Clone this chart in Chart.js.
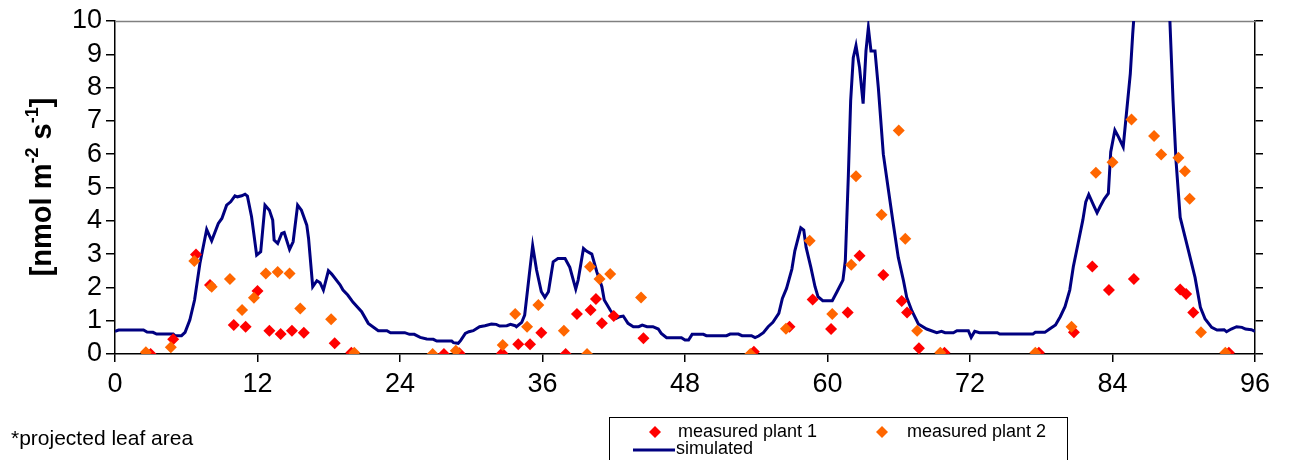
<!DOCTYPE html>
<html>
<head>
<meta charset="utf-8">
<title>Simulated vs measured</title>
<script src="https://cdn.jsdelivr.net/npm/chart.js@4.4.1/dist/chart.umd.min.js"></script>
<style>
  html, body { margin: 0; padding: 0; background: #fff; }
  #wrap { width: 1290px; height: 460px; position: relative; }
</style>
</head>
<body>
<div id="wrap"><canvas id="chart"></canvas></div>
<script>
"use strict";

// hours / values
var xTicks = [0, 12, 24, 36, 48, 60, 72, 84, 96];
var yTicks = [0, 1, 2, 3, 4, 5, 6, 7, 8, 9, 10];

var plant1Hours = [3.0, 4.9, 6.82, 8.0, 10.0, 11.0, 12.0, 13.0, 13.95, 14.9, 15.9, 18.5, 19.9,
    27.7, 29.0, 32.6, 33.96, 34.95, 35.9, 37.95, 38.9, 40.05, 40.5, 41.0, 42.0, 44.5,
    53.8, 56.8, 58.75, 60.3, 61.7, 62.7, 64.7, 66.25, 66.7, 67.7, 69.85,
    77.8, 80.75, 82.3, 83.7, 85.8, 89.7, 90.2, 90.8, 93.8];
var plant1Values = [0.0, 0.44, 2.99, 2.07, 0.87, 0.82, 1.89, 0.70, 0.60, 0.70, 0.64, 0.32, 0.04,
    0.0, 0.02, 0.02, 0.29, 0.29, 0.64, 0.0, 1.2, 1.32, 1.65, 0.92, 1.14, 0.47,
    0.07, 0.82, 1.64, 0.75, 1.25, 2.95, 2.37, 1.59, 1.25, 0.17, 0.04,
    0.04, 0.65, 2.63, 1.92, 2.25, 1.94, 1.80, 1.25, 0.04];

var plant2Hours = [2.6, 4.7, 6.68, 8.14, 9.68, 10.7, 11.7, 12.7, 13.7, 14.7, 15.6, 18.2, 20.15,
    26.75, 28.7, 32.65, 33.7, 34.7, 35.65, 37.8, 39.75, 40.0, 40.8, 41.7, 44.3,
    53.5, 56.5, 58.5, 60.4, 62.0, 62.4, 64.55, 66.0, 66.55, 67.55, 69.5,
    77.5, 80.55, 82.6, 84.0, 85.6, 87.5, 88.1, 89.55, 90.1, 90.5, 91.45, 93.5];
var plant2Values = [0.05, 0.2, 2.79, 2.02, 2.25, 1.32, 1.69, 2.42, 2.46, 2.42, 1.37, 1.04, 0.04,
    0.0, 0.1, 0.27, 1.2, 0.82, 1.47, 0.70, 0.0, 2.62, 2.25, 2.40, 1.70,
    0.0, 0.76, 3.40, 1.2, 2.68, 5.34, 4.18, 6.71, 3.46, 0.70, 0.04,
    0.04, 0.82, 5.44, 5.76, 7.04, 6.55, 5.99, 5.89, 5.49, 4.66, 0.65, 0.04];

var simHours = [0.0, 0.3, 1.0, 2.4, 2.7, 3.2, 3.5, 4.9, 5.05, 5.6, 5.9, 6.3, 6.7, 7.15, 7.72, 8.14,
    8.7, 9.0, 9.4, 9.74, 10.1, 10.3, 10.67, 10.95, 11.15, 11.5, 11.93, 12.27, 12.63, 13.0, 13.28,
    13.4, 13.7, 14.04, 14.25, 14.7, 15.0, 15.38, 15.7, 16.15, 16.3, 16.65, 17.0, 17.27, 17.55,
    17.97, 18.25, 18.95, 19.2, 19.6, 20.05, 20.77, 21.33, 22.17, 22.9, 23.2, 24.4, 24.8, 25.2,
    25.7, 26.25, 26.8, 27.1, 28.35, 28.5, 28.9, 29.1, 29.5, 29.8, 30.17, 30.7, 31.15, 31.7,
    32.1, 32.4, 33.0, 33.3, 33.7, 33.8, 34.25, 34.5, 34.9, 35.17, 35.5, 35.9, 36.2, 36.5, 36.9,
    37.3, 37.9, 38.3, 38.8, 39.0, 39.45, 39.7, 40.15, 40.57, 41.0, 41.2, 41.7, 42.2, 42.5, 42.8,
    43.2, 43.65, 44.1, 44.4, 44.8, 45.3, 45.75, 46.0, 46.45, 47.7, 48.0, 48.3, 48.6, 49.55,
    49.8, 51.5, 51.8, 52.5, 52.8, 53.6, 53.9, 54.2, 54.6, 55.0, 55.4, 55.9, 56.2, 56.55, 57.0,
    57.25, 57.75, 58.0, 58.2, 58.6, 58.95, 59.2, 59.6, 60.4, 60.8, 61.3, 61.5, 61.6, 61.75,
    61.95, 62.17, 62.4, 62.7, 63.0, 63.24, 63.44, 63.66, 64.0, 64.28, 64.7, 65.1, 65.5, 65.96,
    66.4, 66.67, 67.1, 67.65, 68.35, 69.2, 69.6, 69.9, 70.6, 70.9, 71.86, 72.1, 72.4, 72.8,
    74.3, 74.5, 77.3, 77.5, 78.3, 78.7, 79.2, 79.6, 80.0, 80.4, 80.7, 81.1, 81.5, 81.75, 82.0,
    82.4, 82.7, 82.95, 83.3, 83.65, 83.85, 84.2, 84.5, 84.9, 85.2, 85.5, 85.7, 85.9, 86.3,
    86.8, 87.3, 87.8, 88.3, 88.8, 89.1, 89.35, 89.7, 90.4, 90.95, 91.4, 91.8, 92.35, 92.8,
    93.4, 93.6, 94.0, 94.45, 94.9, 95.2, 95.7, 96.0];
var simValues = [0.68, 0.72, 0.72, 0.72, 0.66, 0.65, 0.60, 0.60, 0.55, 0.55, 0.65, 1.02, 1.62, 2.72, 3.74, 3.40,
    3.92, 4.07, 4.47, 4.57, 4.75, 4.72, 4.75, 4.80, 4.74, 4.12, 2.97, 3.07, 4.47, 4.32, 4.02,
    3.42, 3.32, 3.62, 3.65, 3.14, 3.37, 4.47, 4.32, 3.87, 3.47, 2.02, 2.20, 2.14, 1.92,
    2.50, 2.40, 2.08, 1.92, 1.77, 1.55, 1.27, 0.92, 0.70, 0.70, 0.64, 0.64, 0.59, 0.59,
    0.50, 0.45, 0.44, 0.39, 0.39, 0.34, 0.32, 0.40, 0.62, 0.67, 0.70, 0.82, 0.85, 0.90,
    0.89, 0.84, 0.85, 0.89, 0.85, 0.82, 0.95, 1.17, 2.42, 3.25, 2.52, 1.87, 1.70, 1.87, 2.77,
    2.87, 2.87, 2.60, 1.95, 2.22, 3.17, 3.09, 3.00, 2.47, 2.02, 1.62, 1.32, 1.07, 1.12, 1.14,
    0.92, 0.82, 0.82, 0.87, 0.82, 0.82, 0.75, 0.62, 0.49, 0.49, 0.42, 0.42, 0.59, 0.59,
    0.55, 0.55, 0.60, 0.60, 0.55, 0.55, 0.49, 0.54, 0.64, 0.82, 0.95, 1.22, 1.67, 1.97, 2.55,
    3.10, 3.79, 3.72, 3.20, 2.60, 2.02, 1.72, 1.60, 1.60, 1.87, 2.22, 2.80, 3.80, 5.30,
    7.60, 8.90, 9.26, 8.60, 7.52, 9.10, 9.80, 9.10, 9.10, 8.00, 6.00, 5.00, 4.00, 2.90,
    2.20, 1.70, 1.30, 0.90, 0.75, 0.64, 0.68, 0.64, 0.64, 0.70, 0.70, 0.50, 0.68, 0.64,
    0.64, 0.60, 0.60, 0.65, 0.65, 0.75, 0.87, 1.12, 1.42, 1.92, 2.62, 3.32, 4.02, 4.57, 4.79,
    4.47, 4.24, 4.42, 4.65, 4.82, 6.07, 6.72, 6.52, 6.22, 7.32, 8.42, 9.60, 10.6, 11.8,
    12.6, 12.9, 12.5, 11.6, 10.3, 7.60, 5.80, 4.10, 3.10, 2.30, 1.40, 1.05, 0.80, 0.72,
    0.73, 0.67, 0.75, 0.82, 0.80, 0.75, 0.73, 0.68];

var labelPlant1 = 'measured plant 1';
var labelPlant2 = 'measured plant 2';
var labelSim = 'simulated';
var yTitleParts = [['[nmol m', false], ['-2', true], [' s', false], ['-1', true], [']', false]];
var footNote = '*projected leaf area';

var colorPlant1 = '#FF0000';
var colorPlant2 = '#FF6600';
var colorSim = '#000080';
var fontFamily = '"Liberation Sans", Arial, sans-serif';

function toPoints(xs, ys) {
    return xs.map(function (x, i) { return { x: x, y: ys[i] }; });
}

function drawDiamond(ctx, x, y, r, color) {
    ctx.fillStyle = color;
    ctx.beginPath();
    ctx.moveTo(x, y - r);
    ctx.lineTo(x + r, y);
    ctx.lineTo(x, y + r);
    ctx.lineTo(x - r, y);
    ctx.closePath();
    ctx.fill();
}

// frame, axis title, footnote and the boxed legend
var decorations = {
    id: 'decorations',
    beforeDatasetsDraw: function (chart) {
        var ctx = chart.ctx;
        var a = chart.chartArea;
        ctx.save();
        ctx.strokeStyle = '#808080';
        ctx.lineWidth = 1.5;
        ctx.beginPath();
        ctx.moveTo(a.left, a.top + 0.5);
        ctx.lineTo(a.right, a.top + 0.5);
        ctx.stroke();
        ctx.restore();
    },
    afterDraw: function (chart) {
        var ctx = chart.ctx;
        ctx.save();

        // y title with superscripts
        var big = 'bold 29px ' + fontFamily;
        var small = 'bold 18px ' + fontFamily;
        var total = 0;
        yTitleParts.forEach(function (p) {
            ctx.font = p[1] ? small : big;
            total += ctx.measureText(p[0]).width;
        });
        ctx.translate(43, 187);
        ctx.rotate(-Math.PI / 2);
        ctx.fillStyle = '#000';
        ctx.textBaseline = 'middle';
        ctx.textAlign = 'left';
        var pos = -total / 2;
        yTitleParts.forEach(function (p) {
            ctx.font = p[1] ? small : big;
            ctx.fillText(p[0], pos, p[1] ? -10 : 0);
            pos += ctx.measureText(p[0]).width;
        });
        ctx.setTransform(1, 0, 0, 1, 0, 0);

        // footnote
        ctx.font = '21px ' + fontFamily;
        ctx.textBaseline = 'middle';
        ctx.fillText(footNote, 11, 439);

        // legend box
        ctx.fillStyle = '#fff';
        ctx.fillRect(609, 417, 458, 50);
        ctx.strokeStyle = '#000';
        ctx.lineWidth = 1;
        ctx.strokeRect(609.5, 417.5, 458, 50);
        ctx.font = '18px ' + fontFamily;
        drawDiamond(ctx, 655, 432, 6, colorPlant1);
        ctx.fillStyle = '#000';
        ctx.fillText(labelPlant1, 678, 432);
        drawDiamond(ctx, 882, 432, 6, colorPlant2);
        ctx.fillStyle = '#000';
        ctx.fillText(labelPlant2, 907, 432);
        ctx.strokeStyle = colorSim;
        ctx.lineWidth = 3;
        ctx.beginPath();
        ctx.moveTo(633, 450);
        ctx.lineTo(675, 450);
        ctx.stroke();
        ctx.fillText(labelSim, 676, 449);
        ctx.restore();
    }
};

var ctx = document.getElementById('chart');
var myChart = new Chart(ctx, {
    type: 'scatter',
    data: {
        datasets: [{
            label: labelSim,
            data: toPoints(simHours, simValues),
            showLine: true,
            borderColor: colorSim,
            borderWidth: 3,
            pointRadius: 0,
            tension: 0,
            order: 3
        }, {
            label: labelPlant1,
            data: toPoints(plant1Hours, plant1Values),
            pointStyle: 'rectRot',
            pointRadius: 6,
            backgroundColor: colorPlant1,
            borderColor: colorPlant1,
            borderWidth: 0,
            order: 2
        }, {
            label: labelPlant2,
            data: toPoints(plant2Hours, plant2Values),
            pointStyle: 'rectRot',
            pointRadius: 6,
            backgroundColor: colorPlant2,
            borderColor: colorPlant2,
            borderWidth: 0,
            order: 1
        }]
    },
    options: {
        responsive: true,
        maintainAspectRatio: false,
        animation: false,
        layout: { padding: { top: 21, left: 0, right: 0, bottom: 0 } },
        plugins: {
            legend: { display: false },
            tooltip: { enabled: false }
        },
        scales: {
            x: {
                type: 'linear',
                min: 0,
                max: 96,
                afterBuildTicks: function (scale) {
                    scale.ticks = xTicks.map(function (v) { return { value: v }; });
                },
                ticks: {
                    color: '#000',
                    font: { family: fontFamily, size: 27 },
                    padding: 6,
                    maxRotation: 0,
                    autoSkip: false
                },
                grid: {
                    drawOnChartArea: false,
                    tickLength: 8,
                    color: '#000',
                    lineWidth: 1.5
                },
                border: { color: '#000', width: 1.5 },
                afterFit: function (scale) { scale.height = 106; }
            },
            y: {
                position: 'left',
                min: 0,
                max: 10,
                afterBuildTicks: function (scale) {
                    scale.ticks = yTicks.map(function (v) { return { value: v }; });
                },
                ticks: {
                    color: '#000',
                    font: { family: fontFamily, size: 27 },
                    padding: 4,
                    autoSkip: false
                },
                grid: {
                    drawOnChartArea: false,
                    tickLength: 9,
                    color: '#000',
                    lineWidth: 1.5
                },
                border: { color: '#000', width: 1.5 },
                afterFit: function (scale) { scale.width = 115; }
            },
            y2: {
                position: 'right',
                min: 0,
                max: 10,
                afterBuildTicks: function (scale) {
                    scale.ticks = yTicks.map(function (v) { return { value: v }; });
                },
                ticks: { display: false, autoSkip: false },
                grid: {
                    drawOnChartArea: false,
                    tickLength: 8,
                    color: '#000',
                    lineWidth: 1.5
                },
                border: { color: '#000', width: 1.5 },
                afterFit: function (scale) { scale.width = 35; }
            }
        }
    },
    plugins: [decorations]
});
</script>
</body>
</html>
